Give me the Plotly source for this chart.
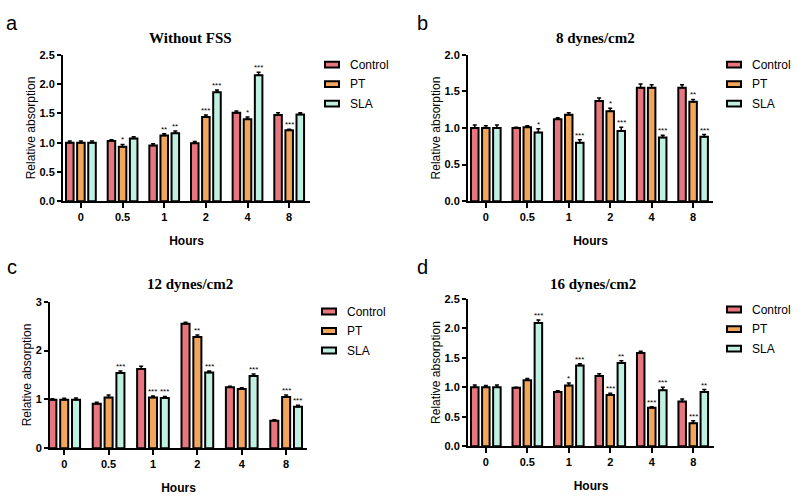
import plotly.graph_objects as go

hours = ["0", "0.5", "1", "2", "4", "8"]
series = ["Control", "PT", "SLA"]
colors = ["#E8767F", "#F2A65C", "#C0F0E2"]

titles = ["Without FSS", "8 dynes/cm2", "12 dynes/cm2", "16 dynes/cm2"]
panel_letters = ["a", "b", "c", "d"]

# Panel a: Without FSS
a_control = [1.00, 1.03, 0.95, 0.99, 1.51, 1.47]
a_pt = [1.00, 0.93, 1.12, 1.44, 1.40, 1.21]
a_sla = [1.00, 1.07, 1.16, 1.86, 2.15, 1.48]
a_err_control = [0.03, 0.02, 0.03, 0.03, 0.03, 0.04]
a_err_pt = [0.03, 0.04, 0.03, 0.03, 0.04, 0.02]
a_err_sla = [0.03, 0.03, 0.04, 0.04, 0.05, 0.03]
a_sig_pt = ["", "*", "**", "***", "*", "***"]
a_sig_sla = ["", "", "**", "***", "***", ""]

# Panel b: 8 dynes/cm2
b_control = [1.00, 1.00, 1.12, 1.37, 1.55, 1.55]
b_pt = [1.00, 1.01, 1.18, 1.23, 1.55, 1.36]
b_sla = [1.00, 0.94, 0.80, 0.96, 0.87, 0.88]
b_err_control = [0.04, 0.01, 0.02, 0.04, 0.05, 0.04]
b_err_pt = [0.03, 0.02, 0.03, 0.04, 0.04, 0.03]
b_err_sla = [0.04, 0.05, 0.04, 0.05, 0.03, 0.03]
b_sig_pt = ["", "", "", "*", "", "**"]
b_sig_sla = ["", "*", "***", "***", "***", "***"]

# Panel c: 12 dynes/cm2
c_control = [0.99, 0.91, 1.62, 2.55, 1.25, 0.56]
c_pt = [0.99, 1.04, 1.04, 2.28, 1.21, 1.05]
c_sla = [0.99, 1.54, 1.03, 1.55, 1.48, 0.85]
c_err_control = [0.02, 0.03, 0.06, 0.03, 0.02, 0.02]
c_err_pt = [0.03, 0.05, 0.03, 0.04, 0.03, 0.04]
c_err_sla = [0.04, 0.04, 0.03, 0.03, 0.04, 0.03]
c_sig_pt = ["", "", "***", "**", "", "***"]
c_sig_sla = ["", "***", "***", "***", "***", "***"]

# Panel d: 16 dynes/cm2
d_control = [1.00, 0.99, 0.92, 1.19, 1.58, 0.76]
d_pt = [1.00, 1.12, 1.03, 0.87, 0.65, 0.39]
d_sla = [1.00, 2.09, 1.37, 1.41, 0.95, 0.92]
d_err_control = [0.04, 0.01, 0.02, 0.04, 0.03, 0.04]
d_err_pt = [0.03, 0.03, 0.04, 0.03, 0.02, 0.04]
d_err_sla = [0.04, 0.05, 0.03, 0.04, 0.05, 0.04]
d_sig_pt = ["", "", "*", "***", "***", "***"]
d_sig_sla = ["", "***", "***", "**", "***", "**"]

y_max = [2.5, 2.0, 3.0, 2.5]
y_dtick = [0.5, 0.5, 1.0, 0.5]
y_fmt = [".1f", ".1f", "d", ".1f"]

panels = [
    ([a_control, a_pt, a_sla], [a_err_control, a_err_pt, a_err_sla], [None, a_sig_pt, a_sig_sla]),
    ([b_control, b_pt, b_sla], [b_err_control, b_err_pt, b_err_sla], [None, b_sig_pt, b_sig_sla]),
    ([c_control, c_pt, c_sla], [c_err_control, c_err_pt, c_err_sla], [None, c_sig_pt, c_sig_sla]),
    ([d_control, d_pt, d_sla], [d_err_control, d_err_pt, d_err_sla], [None, d_sig_pt, d_sig_sla]),
]

W, H = 800, 501
# pixel layout boxes: (x0, x1, ytop, ybottom)
boxes = [(63, 310, 50, 200), (468, 713, 50, 200), (50, 307, 303, 453), (468, 714, 300, 451)]
xranges = [[-0.43, 5.5], [-0.43, 5.48], [-0.32, 5.47], [-0.43, 5.5]]
title_pos = [(190, 33), (595, 33), (190, 285), (593, 285)]
letter_pos = [(12, 17), (422, 17), (12, 267), (422, 267)]
legend_pos = [(325, 60), (727, 60), (322, 313), (727, 311)]

def px(x):
    return x / W

def py(y):
    return 1 - y / H

fig = go.Figure()
layout = {}
annotations = []
shapes = []
bargap = 0.2
slot = (1 - bargap) / 3
xidx = list(range(len(hours)))

for p, (vals, errs, sigs) in enumerate(panels):
    n = "" if p == 0 else str(p + 1)
    xa, ya = "x" + n, "y" + n
    for k in range(3):
        fig.add_trace(go.Bar(
            x=xidx, y=vals[k], name=series[k], xaxis=xa, yaxis=ya,
            marker=dict(color=colors[k], line=dict(color="black", width=2)),
            error_y=dict(type="data", array=errs[k], arrayminus=[0] * 6, symmetric=False,
                         color="black", thickness=1.5, width=2),
            offsetgroup=str(k), showlegend=False,
        ))
        if sigs[k]:
            for i, s in enumerate(sigs[k]):
                if s:
                    annotations.append(dict(
                        x=i + (k - 1) * slot, y=vals[k][i] + errs[k][i], xref=xa, yref=ya,
                        text=s, showarrow=False, yanchor="bottom", yshift=-2,
                        font=dict(family="Liberation Sans", size=8, color="black"),
                    ))
    x0, x1, yt, yb = boxes[p]
    layout["xaxis" + n] = dict(
        domain=[px(x0), px(x1)], anchor=ya, range=xranges[p],
        tickmode="array", tickvals=xidx, ticktext=hours,
        showline=True, linecolor="black", linewidth=2, ticks="outside",
        ticklen=5, tickwidth=2, tickcolor="black", showgrid=False, zeroline=False,
        tickfont=dict(family="Liberation Sans", size=11, color="black", weight="bold"),
        title=dict(text="Hours", standoff=14,
                   font=dict(family="Liberation Sans", size=12, color="black", weight="bold")),
    )
    layout["yaxis" + n] = dict(
        domain=[py(yb), py(yt)], anchor=xa, range=[0, y_max[p]], dtick=y_dtick[p],
        tickformat=y_fmt[p], showline=True, linecolor="black", linewidth=2,
        ticks="outside", ticklen=4, tickwidth=2, tickcolor="black",
        showgrid=False, zeroline=False,
        tickfont=dict(family="Liberation Sans", size=11, color="black", weight="bold"),
        title=dict(text="Relative absorption", standoff=1,
                   font=dict(family="Liberation Sans", size=12, color="black")),
    )
    tx, ty = title_pos[p]
    annotations.append(dict(x=px(tx), y=py(ty), xref="paper", yref="paper", text="<b>" + titles[p] + "</b>",
                            showarrow=False, xanchor="center", yanchor="middle",
                            font=dict(family="Liberation Serif", size=15, color="black")))
    lx, ly = letter_pos[p]
    annotations.append(dict(x=px(lx), y=py(ly), xref="paper", yref="paper", text=panel_letters[p],
                            showarrow=False, xanchor="center", yanchor="middle",
                            font=dict(family="Liberation Sans", size=20, color="black")))
    gx, gy = legend_pos[p]
    for k in range(3):
        cy = gy + k * 20
        shapes.append(dict(type="rect", xref="paper", yref="paper",
                           x0=px(gx), x1=px(gx + 14), y0=py(cy + 3), y1=py(cy - 3),
                           fillcolor=colors[k], line=dict(color="black", width=2)))
        annotations.append(dict(x=px(gx + 23), y=py(cy), xref="paper", yref="paper", text=series[k],
                                showarrow=False, xanchor="left", yanchor="middle",
                                font=dict(family="Liberation Sans", size=12, color="black")))

fig.update_layout(
    width=W, height=H, margin=dict(l=0, r=0, t=0, b=0),
    paper_bgcolor="white", plot_bgcolor="white",
    barmode="group", bargap=bargap, bargroupgap=0.32,
    annotations=annotations, shapes=shapes, showlegend=False,
    **layout,
)
fig.write_html("out.html", config={"displayModeBar": False},
               post_script="document.body.style.margin='0px';document.body.style.overflow='hidden';")
